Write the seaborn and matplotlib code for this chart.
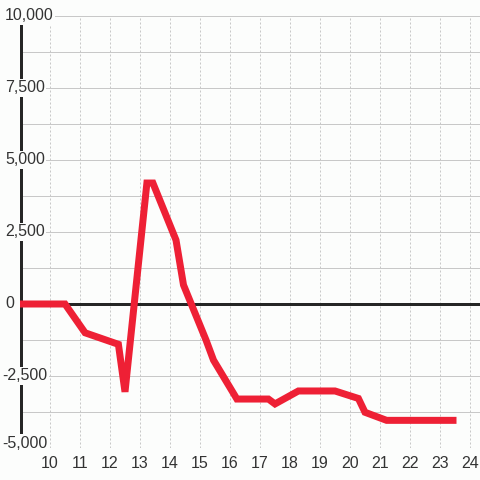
import matplotlib
matplotlib.use("Agg")
import matplotlib.pyplot as plt
import matplotlib.transforms as mtrans
import seaborn as sns
import pandas as pd
import numpy as np

# ---- data ----
hours = [9, 10.5, 11.17, 12.28, 12.5, 13.23, 13.43, 14.2, 14.45, 15.2, 15.45,
         16.23, 17.28, 17.5, 18.28, 19.5, 20.28, 20.5, 21.22, 23.55]
values = [0, 0, -1000, -1400, -3050, 4200, 4200, 2220, 660, -1250, -1950,
          -3300, -3300, -3470, -3020, -3020, -3280, -3760, -4040, -4040]
x_ticks = list(range(10, 25))
y_ticks = [-5000, -2500, 0, 2500, 5000, 7500, 10000]
y_tick_labels = ["-5,000", "-2,500", "0", "2,500", "5,000", "7,500", "10,000"]

df = pd.DataFrame({"hour": hours, "value": values})

sns.set_style("white")
plt.rcParams["font.family"] = ["Liberation Sans", "DejaVu Sans"]

W, H = 480, 480
fig = plt.figure(figsize=(4.8, 4.8), dpi=100)
bg = "#fcfdfc"
fig.patch.set_facecolor(bg)
ax = fig.add_axes([20 / W, (H - 448) / H, 460 / W, 432 / H])
ax.set_facecolor(bg)

ax.set_xlim(9, 9 + 460 / 30)
ax.set_ylim(-5000, 10000)

px = 72 / 100  # points per pixel

# grid lines
for yv in np.arange(-5000, 10001, 1250):
    ax.axhline(yv, color="#c8c8c8", lw=1 * px, zorder=1)
for xv in x_ticks:
    ax.axvline(xv, color="#c8c8c8", lw=1 * px, linestyle=(0, (2, 2)), zorder=1)

# zero line and y axis line
ax.axhline(0, color="#262626", lw=3 * px, zorder=2)
ax.axvline(9.03, color="#262626", lw=3 * px, zorder=2)

sns.lineplot(data=df, x="hour", y="value", ax=ax, color="#ee2035",
             lw=7 * px, sort=False, estimator=None, zorder=3,
             solid_joinstyle="miter", solid_capstyle="butt")

for s in ax.spines.values():
    s.set_visible(False)

ax.set_xlabel("")
ax.set_ylabel("")
ax.set_xticks(x_ticks)
ax.set_xticklabels([str(t) for t in x_ticks])
ax.tick_params(axis="x", length=0, pad=5.5, labelsize=11.5, labelcolor="#333333")
ax.set_yticks([])

trans = mtrans.blended_transform_factory(fig.transFigure, ax.transData)
for yv, lab in zip(y_ticks, y_tick_labels):
    xoff = 2 if lab.startswith("-") else 5
    ytext = yv + (170 if yv == -5000 else 0)
    ax.text(xoff / W, ytext, lab, transform=trans, ha="left", va="center",
            fontsize=11.5, color="#333333", zorder=10, clip_on=False,
            bbox=dict(boxstyle="square,pad=0.1", facecolor=bg, edgecolor="none"))

fig.savefig("out.png", dpi=100, facecolor=bg)
